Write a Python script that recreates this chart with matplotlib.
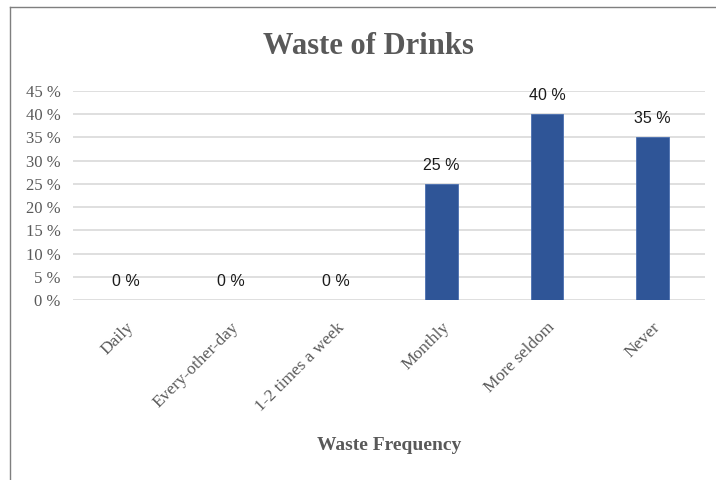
import matplotlib.pyplot as plt
from matplotlib.lines import Line2D
from matplotlib.ticker import FuncFormatter

categories = ["Daily", "Every-other-day", "1-2 times a week", "Monthly", "More seldom", "Never"]
shares = [0, 0, 0, 25, 40, 35]
y_ticks = [0, 5, 10, 15, 20, 25, 30, 35, 40, 45]

serif = "Liberation Serif"
gray = "#595959"

fig = plt.figure(figsize=(7.16, 4.80), dpi=100)
ax = fig.add_axes([73 / 716, 1 - 300 / 480, 632 / 716, 209 / 480])

# frame around the chart (top and left edges visible)
fig.add_artist(Line2D([10 / 716, 1], [1 - 7 / 480, 1 - 7 / 480], color="#7f7f7f", lw=1))
fig.add_artist(Line2D([10 / 716, 10 / 716], [0, 1 - 7 / 480], color="#7f7f7f", lw=1))

x = range(len(categories))
bars = ax.bar(x, shares, width=0.31, color="#2F5597", edgecolor="#4a6fb0", linewidth=0.6, zorder=3)

for b, v in zip(bars, shares):
    ax.annotate(f"{v} %", (b.get_x() + b.get_width() / 2, v), xytext=(0, 8),
                textcoords="offset points", ha="center", va="bottom",
                fontsize=11.5, family="Liberation Sans", color="#1a1a1a")

ax.set_ylim(0, 45)
ax.set_xlim(-0.5, len(categories) - 0.5)
ax.set_yticks(y_ticks)
ax.yaxis.set_major_formatter(FuncFormatter(lambda v, p: f"{v:.0f} %"))
ax.grid(axis="y", color="#d9d9d9", lw=1.2, zorder=0)
ax.set_axisbelow(True)
for s in ax.spines.values():
    s.set_visible(False)
ax.tick_params(length=0)
ax.tick_params(axis="y", pad=9)

for lbl in ax.get_yticklabels():
    lbl.set_family(serif)
    lbl.set_fontsize(12)
    lbl.set_color(gray)

ax.set_xticks(list(x))
ax.set_xticklabels(categories, rotation=45, ha="right", rotation_mode="anchor",
                   family=serif, fontsize=12.5, color=gray)
ax.tick_params(axis="x", pad=14)

ax.set_xlabel("Waste Frequency", family=serif, fontsize=14, fontweight="bold",
              color=gray, labelpad=16)
fig.text(368 / 716, 1 - 47 / 480, "Waste of Drinks", ha="center", va="center",
         family=serif, fontsize=22, fontweight="bold", color=gray)

fig.savefig("out.png", dpi=100)
